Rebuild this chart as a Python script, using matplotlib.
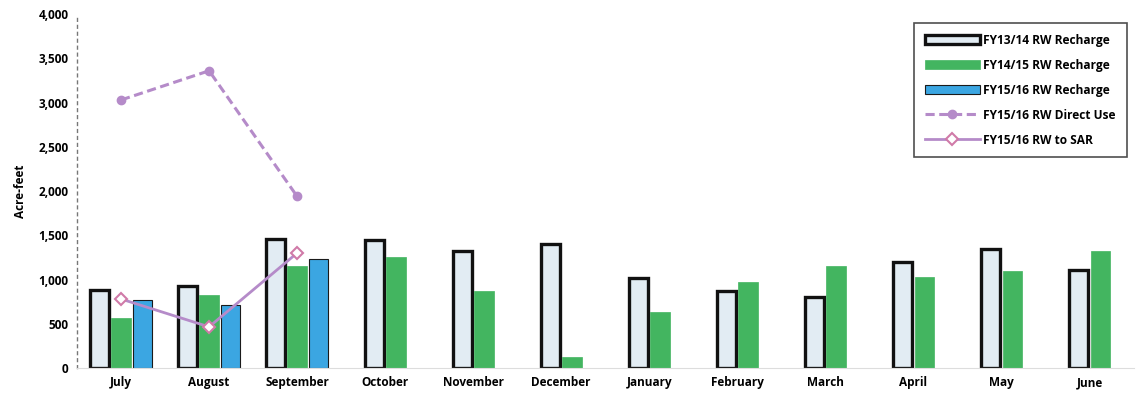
import matplotlib
matplotlib.use("Agg")
import matplotlib.pyplot as plt
import numpy as np

months = ["July", "August", "September", "October", "November", "December",
          "January", "February", "March", "April", "May", "June"]
fy1314_recharge = [880, 930, 1460, 1450, 1320, 1400, 1020, 870, 800, 1200, 1350, 1110]
fy1415_recharge = [565, 825, 1150, 1255, 870, 125, 635, 970, 1150, 1030, 1095, 1320]
fy1516_recharge = [770, 710, 1230]
fy1516_direct_use = [3030, 3360, 1940]
fy1516_to_sar = [780, 465, 1300]
yticks = [0, 500, 1000, 1500, 2000, 2500, 3000, 3500, 4000]

plt.rcParams['font.family'] = ['Open Sans', 'DejaVu Sans']

fig = plt.figure(figsize=(11.36, 3.98), dpi=100)
ax = fig.add_axes([0.0678, 0.0754, 0.930, 0.889])

x = np.arange(len(months))
w = 0.22
off = 0.245
n3 = len(fy1516_recharge)
x13 = np.array([xi - off if i < n3 else xi - off / 2 for i, xi in enumerate(x)])
x14 = np.array([xi if i < n3 else xi + off / 2 for i, xi in enumerate(x)])
x15 = x[:n3] + off

b1 = ax.bar(x13, fy1314_recharge, width=w, color="#e2ecf3", edgecolor="#111111",
            linewidth=2.4, label="FY13/14 RW Recharge", zorder=2)
b2 = ax.bar(x14, fy1415_recharge, width=w, color="#43b560", edgecolor="#43b560",
            linewidth=0.5, label="FY14/15 RW Recharge", zorder=2)
b3 = ax.bar(x15, fy1516_recharge, width=w, color="#3ba6e2", edgecolor="#1a1a1a",
            linewidth=0.8, label="FY15/16 RW Recharge", zorder=2)

l1, = ax.plot(x[:3], fy1516_direct_use, color="#b58bc9", linestyle=(0, (3, 1.5)),
              linewidth=2.2, marker="o", markersize=6, label="FY15/16 RW Direct Use", zorder=3)
l2, = ax.plot(x[:3], fy1516_to_sar, color="#b58bc9", linestyle="-", linewidth=2.0,
              marker="D", markersize=6, markerfacecolor="white", markeredgecolor="#d07aa8",
              markeredgewidth=1.5, label="FY15/16 RW to SAR", zorder=3)

ax.set_xlim(-0.5, len(months) - 0.5)
ax.set_ylim(0, 4000)
ax.set_yticks(yticks)
ax.set_yticklabels([f"{v:,}" for v in yticks], fontsize=8.5, fontweight="bold")
ax.set_xticks(x)
ax.set_xticklabels(months, fontsize=8.5, fontweight="bold")
ax.tick_params(axis="both", length=0, pad=6)
ax.set_ylabel("Acre-feet", fontsize=8.5, fontweight="bold", labelpad=8)

for s in ["top", "right"]:
    ax.spines[s].set_visible(False)
ax.spines["left"].set_color("#777777")
ax.spines["left"].set_linestyle((0, (2, 3)))
ax.spines["left"].set_linewidth(1.0)
ax.spines["bottom"].set_color("#dddddd")

leg = ax.legend(handles=[b1, b2, b3, l1, l2], loc="upper right",
                bbox_to_anchor=(0.997, 0.985),
                frameon=True, fancybox=False, edgecolor="#222222",
                handlelength=4.6, handletextpad=0.3, labelspacing=1.0,
                borderpad=0.9, borderaxespad=0.3,
                prop={"weight": "bold", "size": 8.6})
leg.get_frame().set_linewidth(1.2)

fig.savefig("out.png", dpi=100, facecolor="white")
